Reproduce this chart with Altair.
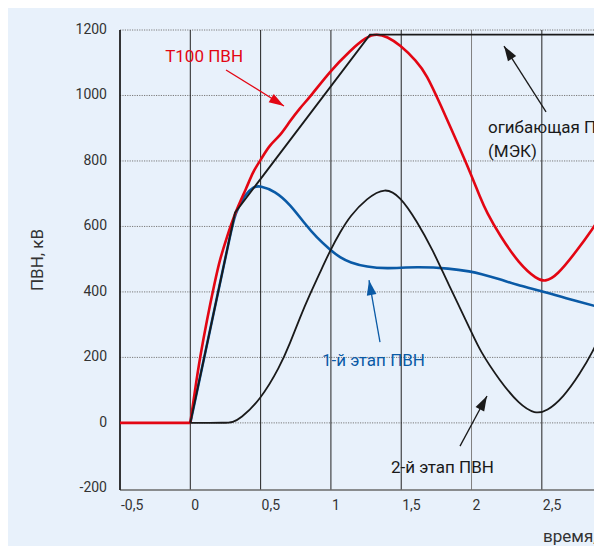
import altair as alt
import pandas as pd

# T100 ПВН (red): flat part before t = 0, then the transient
red_pre_x = [-0.5, 0.0]
red_pre_y = [0, 0]
red_x = [0.0, 0.033, 0.069, 0.117, 0.176, 0.211, 0.259, 0.318, 0.40, 0.448, 0.496, 0.567, 0.638,
         0.709, 0.78, 0.851, 0.994, 1.136, 1.255, 1.326, 1.40, 1.49, 1.61, 1.68, 1.776, 1.895, 1.996,
         2.06, 2.108, 2.2, 2.34, 2.464, 2.523, 2.606, 2.748, 2.866, 2.93, 3.0]
red_y = [0, 99, 200, 312, 434, 500, 566, 642, 718, 769, 800, 851, 876,
         922, 962, 995, 1074, 1137, 1180, 1188, 1180, 1155, 1105, 1064, 975, 860, 760,
         690, 643, 573, 485, 439, 431, 449, 525, 596, 637, 672]

# 1-й этап ПВН (blue)
blue_x = [0.0, 0.1, 0.2, 0.28, 0.318, 0.389, 0.448, 0.496, 0.602, 0.709, 0.816, 0.899, 0.996, 1.065,
          1.136, 1.255, 1.397, 1.61, 1.846, 1.996, 2.06, 2.2, 2.34, 2.5, 2.653, 2.93, 3.0]
blue_y = [0, 202, 404, 565, 642, 698, 721, 725, 708, 668, 607, 566, 528, 505,
          490, 476, 471, 477, 472, 462, 456, 439, 419, 403, 383, 351, 343]

# 2-й этап ПВН (black)
stage2_x = [0.0, 0.26, 0.30, 0.353, 0.495, 0.638, 0.709, 0.78, 0.851, 0.922, 0.996, 1.065, 1.136, 1.255,
            1.385, 1.492, 1.61, 1.728, 1.824, 2.0, 2.06, 2.2, 2.34, 2.452, 2.535, 2.653, 2.77, 2.866,
            2.93, 3.0]
stage2_y = [0, 0, 2, 12, 68, 172, 243, 322, 393, 459, 528, 582, 632, 686,
            720, 692, 617, 525, 434, 278, 220, 129, 56, 27, 35, 78, 149, 220,
            281, 350]

# огибающая ПВН (МЭК)
env_x = [0.0, 0.318, 1.278, 3.0]
env_y = [0, 642, 1186, 1186]

x_ticks = [-0.5, 0, 0.5, 1, 1.5, 2, 2.5]
y_ticks = [-200, 0, 200, 400, 600, 800, 1000, 1200]
x_title = "время, мс"
y_title = "ПВН, кВ"

FONT = "Roboto"
RED = "#E30613"
BLUE = "#0A5AA6"
BLACK = "#1A1A1A"
TXT = "#333333"
W, H = 474, 460

xscale = alt.Scale(domain=[-0.5, 2.871], nice=False, zero=False)
yscale = alt.Scale(domain=[-205, 1200], nice=False, zero=False)


def X(f):
    return alt.X(f, scale=xscale, axis=None)


def Y(f):
    return alt.Y(f, scale=yscale, axis=None)


# grid lines drawn from the tick arrays
hgrid_df = pd.DataFrame({"v": [v for v in y_ticks if v > -200]})
vgrid_df = pd.DataFrame({"t": x_ticks, "major": [t != 2 for t in x_ticks]})

hgrid = alt.Chart(hgrid_df).mark_rule(color="#7a7a7a", strokeWidth=1, strokeDash=[1.2, 1.2]).encode(
    y=Y("v:Q")
)
vgrid = alt.Chart(vgrid_df).mark_rule(strokeWidth=1).encode(
    x=X("t:Q"),
    color=alt.Color("major:N", scale=alt.Scale(domain=[True, False], range=["#222222", "#808080"]),
                    legend=None),
)
bottom = alt.Chart(pd.DataFrame({"v": [-205]})).mark_rule(color="#6a6a6a", strokeWidth=1.4).encode(
    y=Y("v:Q")
)
left = alt.Chart(pd.DataFrame({"t": [-0.5]})).mark_rule(color="#111111", strokeWidth=1.4).encode(
    x=X("t:Q")
)

# tick labels as text through the scales
xlab = alt.Chart(pd.DataFrame({"t": x_ticks})).transform_calculate(
    lab="replace(datum.t + '', '.', ',')"
).mark_text(font=FONT, fontSize=14, color=TXT, align="left", baseline="top", dx=1).encode(
    x=X("t:Q"), y=alt.value(H + 9), text="lab:N"
)
ylab = alt.Chart(pd.DataFrame({"v": y_ticks})).transform_calculate(
    lab="datum.v + ''"
).mark_text(font=FONT, fontSize=14, color=TXT, align="right", baseline="middle").encode(
    x=alt.value(-13), y=Y("v:Q"), text="lab:N"
)
xtitle = alt.Chart(pd.DataFrame({"s": [x_title]})).mark_text(
    font=FONT, fontSize=17, color=TXT, align="left", baseline="alphabetic"
).encode(x=alt.value(423), y=alt.value(H + 52), text="s:N")
ytitle = alt.Chart(pd.DataFrame({"s": [y_title]})).mark_text(
    font=FONT, fontSize=17, color=TXT, align="center", baseline="middle", angle=270
).encode(x=alt.value(-82), y=alt.value(230), text="s:N")


def series(xs, ys, color, width, interp):
    df = pd.DataFrame({"t": xs, "v": ys})
    return alt.Chart(df).mark_line(color=color, strokeWidth=width, interpolate=interp, clip=True).encode(
        x=X("t:Q"), y=Y("v:Q"),
    )


ARROW = "M0,0L0.65,2L-0.65,2Z"


def arrow(x0, y0, x1, y1, angle, color):
    line = alt.Chart().mark_rule(color=color, strokeWidth=1.3).encode(
        x=alt.datum(x0, scale=xscale, axis=None), y=alt.datum(y0, scale=yscale, axis=None),
        x2=alt.datum(x1), y2=alt.datum(y1),
    )
    head = alt.Chart().mark_point(shape=ARROW, size=225, filled=True, color=color, opacity=1,
                                  strokeWidth=0, angle=angle).encode(
        x=alt.datum(x1, scale=xscale, axis=None), y=alt.datum(y1, scale=yscale, axis=None),
    )
    return line + head


def label(x, y, text, color):
    return alt.Chart().mark_text(text=text, font=FONT, fontSize=17, color=color,
                                 align="left", baseline="alphabetic").encode(
        x=alt.datum(x, scale=xscale, axis=None), y=alt.datum(y, scale=yscale, axis=None),
    )


chart = alt.layer(
    hgrid, vgrid, bottom, left, xlab, ylab, xtitle, ytitle,
    series(blue_x, blue_y, BLUE, 2.6, "basis"),
    series(red_pre_x, red_pre_y, RED, 2.6, "linear"),
    series(red_x, red_y, RED, 2.6, "basis"),
    series(stage2_x, stage2_y, BLACK, 1.8, "basis"),
    series(env_x, env_y, BLACK, 1.9, "linear"),
    arrow(0.254, 1078, 0.666, 968, 121.8, RED),
    arrow(2.530, 950, 2.231, 1151, 327.5, BLACK),
    arrow(1.349, 247, 1.271, 436, 349.9, BLUE),
    arrow(1.918, -71, 2.110, 82, 28.4, BLACK),
    label(-0.179, 1102, "Т100 ПВН", RED),
    label(2.117, 885, "огибающая ПВН", BLACK),
    label(2.117, 812, "(МЭК)", BLACK),
    label(0.937, 174, "1-й этап ПВН", BLUE),
    label(1.427, -154, "2-й этап ПВН", BLACK),
).properties(
    width=W, height=H,
    autosize=alt.AutoSizeParams(type="none"),
    padding={"left": 112, "top": 22, "right": 0, "bottom": 56},
    background="#E8F1FB",
).configure_view(stroke=None)

chart.save("out.html", embed_options={"renderer": "svg", "actions": False})
